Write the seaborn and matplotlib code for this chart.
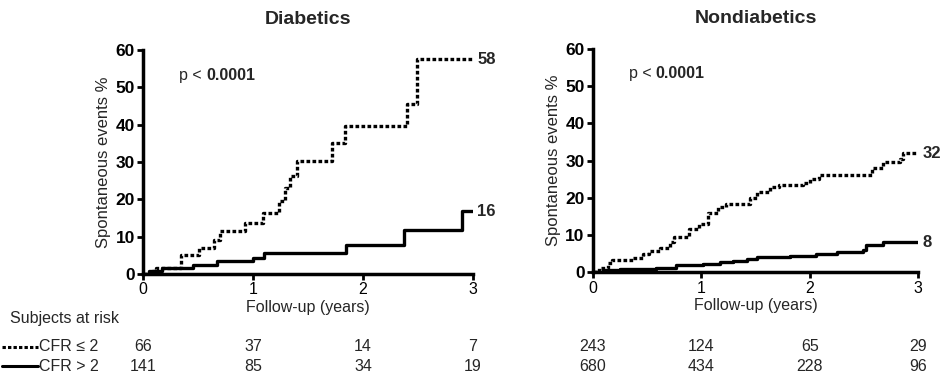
import numpy as np
import pandas as pd
import matplotlib
matplotlib.use("Agg")
import matplotlib.pyplot as plt
import matplotlib.transforms as mtransforms
from matplotlib.lines import Line2D
import seaborn as sns

# ---- data ----
dia_low_t = [0, 0.05, 0.12, 0.34, 0.51, 0.64, 0.70, 0.93, 1.09, 1.24, 1.29, 1.34, 1.40, 1.72, 1.84, 2.40, 2.49, 3.0]
dia_low_y = [0, 0.8, 1.6, 5.1, 7.1, 9.1, 11.5, 13.6, 16.4, 19.5, 23.0, 26.2, 30.4, 35.2, 39.6, 45.7, 57.5, 57.5]
dia_high_t = [0, 0.06, 0.17, 0.45, 0.67, 1.00, 1.10, 1.85, 2.37, 2.90, 3.0]
dia_high_y = [0, 0.8, 1.7, 2.4, 3.5, 4.4, 5.7, 7.9, 11.8, 16.9, 16.9]

non_low_t = [0, 0.06, 0.14, 0.18, 0.37, 0.46, 0.52, 0.62, 0.71, 0.75, 0.89, 0.98, 1.06, 1.15, 1.23,
             1.45, 1.51, 1.63, 1.72, 1.94, 2.00, 2.09, 2.58, 2.68, 2.83, 2.86, 3.0]
non_low_y = [0, 1.0, 2.5, 3.3, 3.8, 4.8, 5.6, 6.5, 8.0, 9.5, 11.5, 13.0, 16.0, 17.5, 18.3,
             20.0, 21.5, 23.0, 23.5, 24.0, 25.0, 26.2, 28.0, 29.5, 30.5, 32.0, 32.0]
non_high_t = [0, 0.09, 0.25, 0.58, 0.77, 1.02, 1.17, 1.29, 1.42, 1.51, 1.82, 2.06, 2.25, 2.49, 2.52, 2.68, 3.0]
non_high_y = [0, 0.5, 0.8, 1.2, 1.8, 2.2, 2.7, 3.0, 3.6, 4.0, 4.4, 5.0, 5.5, 6.0, 7.2, 8.0, 8.0]

end_labels_dia = ["58", "16"]
end_labels_non = ["32", "8"]

risk_years = [0, 1, 2, 3]
dia_risk_low = [66, 37, 14, 7]
dia_risk_high = [141, 85, 34, 19]
non_risk_low = [243, 124, 65, 29]
non_risk_high = [680, 434, 228, 96]

titles = ["Diabetics", "Nondiabetics"]

sns.set_theme(style="ticks")
plt.rcParams["font.family"] = ["Liberation Sans", "DejaVu Sans"]

fig = plt.figure(figsize=(9.42, 3.77), dpi=100)
ax1 = fig.add_axes([0.152, 0.273, 0.350, 0.594])
ax2 = fig.add_axes([0.6295, 0.278, 0.345, 0.592])

dotted = (0, (1.1, 0.7))
panels = [
    (ax1, dia_low_t, dia_low_y, dia_high_t, dia_high_y, end_labels_dia, dia_risk_low, dia_risk_high, titles[0]),
    (ax2, non_low_t, non_low_y, non_high_t, non_high_y, end_labels_non, non_risk_low, non_risk_high, titles[1]),
]

for ax, lt, ly, ht, hy, ends, rlow, rhigh, title in panels:
    df_low = pd.DataFrame({"t": lt, "y": ly})
    df_high = pd.DataFrame({"t": ht, "y": hy})
    sns.lineplot(data=df_low, x="t", y="y", ax=ax, color="black", linewidth=2.4,
                 linestyle=dotted, drawstyle="steps-post", estimator=None, sort=False)
    sns.lineplot(data=df_high, x="t", y="y", ax=ax, color="black", linewidth=2.4,
                 drawstyle="steps-post", estimator=None, sort=False)

    ax.set_xlim(0, 3)
    ax.set_ylim(0, 60)
    ax.set_xticks([0, 1, 2, 3])
    ax.set_yticks([0, 10, 20, 30, 40, 50, 60])
    ax.set_xticklabels(["0", "1", "2", "3"], fontsize=11.5)
    ax.set_yticklabels([str(v) for v in range(0, 70, 10)], fontweight="bold", fontsize=12.5)
    ax.tick_params(axis="both", direction="out", length=4, width=2, colors="black", pad=2)
    for s in ["left", "bottom"]:
        ax.spines[s].set_linewidth(2.5)
        ax.spines[s].set_color("black")
    sns.despine(ax=ax)
    for sp in ax.spines.values():
        sp.set_clip_on(False)

    ax.set_ylabel("Spontaneous events %", fontsize=12, labelpad=3)
    ax.set_xlabel("Follow-up (years)", fontsize=11.5)
    ax.xaxis.set_label_coords(0.5, -0.115)
    ax.set_title(title, fontsize=14, fontweight="bold", pad=19)

    t1 = ax.text(0.33, 53.3, "p < ", fontsize=11.5, va="center", ha="left")
    ax.annotate("0.0001", xy=(1, 0), xycoords=t1, va="bottom", ha="left",
                fontsize=11.5, fontweight="bold")
    ax.text(3.04, ly[-1], ends[0], fontsize=12, fontweight="bold", va="center", ha="left")
    ax.text(3.04, hy[-1], ends[1], fontsize=12, fontweight="bold", va="center", ha="left")

    trans = mtransforms.blended_transform_factory(ax.transData, fig.transFigure)
    for yr, a, b in zip(risk_years, rlow, rhigh):
        ax.text(yr, 0.080, str(a), transform=trans, ha="center", va="center", fontsize=11.5)
        ax.text(yr, 0.029, str(b), transform=trans, ha="center", va="center", fontsize=11.5)

fig.text(0.011, 0.155, "Subjects at risk", fontsize=11.5, va="center")
fig.add_artist(Line2D([0.002, 0.040], [0.080, 0.080], color="black", linewidth=2.2,
                      linestyle=(0, (1.1, 0.7)), transform=fig.transFigure))
fig.add_artist(Line2D([0.002, 0.040], [0.029, 0.029], color="black", linewidth=2.2,
                      transform=fig.transFigure))
fig.text(0.041, 0.080, "CFR \u2264 2", fontsize=11.5, va="center")
fig.text(0.041, 0.029, "CFR > 2", fontsize=11.5, va="center")

fig.savefig("out.png", dpi=100, facecolor="white")
